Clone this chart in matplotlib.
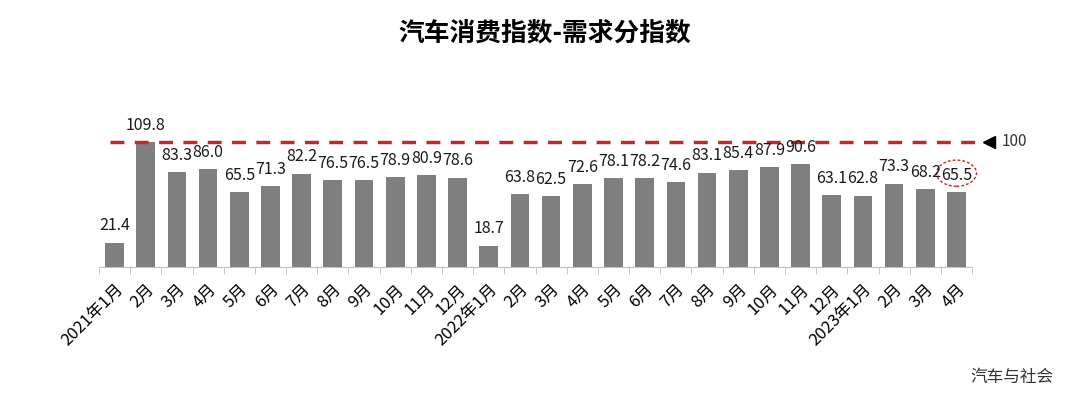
import numpy as np
import matplotlib.pyplot as plt
from matplotlib.patches import Ellipse

plt.rcParams['font.family'] = ['Noto Sans CJK SC', 'DejaVu Sans']

# data
months = ["2021年1月", "2月", "3月", "4月", "5月", "6月", "7月", "8月", "9月", "10月", "11月", "12月",
          "2022年1月", "2月", "3月", "4月", "5月", "6月", "7月", "8月", "9月", "10月", "11月", "12月",
          "2023年1月", "2月", "3月", "4月"]
values = [21.4, 109.8, 83.3, 86.0, 65.5, 71.3, 82.2, 76.5, 76.5, 78.9, 80.9, 78.6,
          18.7, 63.8, 62.5, 72.6, 78.1, 78.2, 74.6, 83.1, 85.4, 87.9, 90.6, 63.1,
          62.8, 73.3, 68.2, 65.5]
ref_label = "100"

fig = plt.figure(figsize=(10.7, 3.93), dpi=100)
ax = fig.add_axes([0.0925, 0.321, 0.816, 0.39])

x = np.arange(len(values))
ax.bar(x, values, width=0.6, color="#7f7f7f")
ax.set_xlim(-0.5, len(values) - 0.5)
ax.set_ylim(0, 135)

# value labels
for xi, v in zip(x, values):
    ax.annotate(f"{v:.1f}", (xi, v), xytext=(0, 6), textcoords="offset points",
                ha="center", va="bottom", fontsize=11.5, color="#1a1a1a")

# reference line (drawn level with the top of the tallest bar, as in the source)
line_y = 110
ax.plot([-0.15, len(values) - 0.4], [line_y, line_y], color="#c0282d",
        lw=2.5, ls=(0, (4, 3)), clip_on=False)
ax.plot([len(values) + 0.05], [line_y], marker="<", color="black", ms=9, clip_on=False)
ax.text(len(values) + 0.45, line_y, ref_label, va="center", ha="left",
        fontsize=11, color="#333333")

# highlight last value
last = len(values) - 1
ax.add_patch(Ellipse((last, values[last] + 17), 1.28, 23, fill=False,
                     ec="#c0282d", lw=1, ls=(0, (2, 1.5)), clip_on=False))

# axes styling
for s in ["top", "right", "left"]:
    ax.spines[s].set_visible(False)
ax.spines["bottom"].set_color("#bfbfbf")
ax.set_yticks([])
ax.set_xticks(np.arange(len(values) + 1) - 0.5, minor=True)
ax.tick_params(axis="x", which="minor", length=5, color="#bfbfbf", direction="out")
ax.tick_params(axis="x", which="major", length=0, pad=10)
ax.set_xticks(x)
ax.set_xticklabels(months, rotation=45, ha="right", rotation_mode="anchor", fontsize=12)

fig.text(0.509, 0.915, "汽车消费指数-需求分指数", ha="center", va="center",
         fontsize=18.5, fontweight="bold", color="black")
fig.text(0.985, 0.04, "汽车与社会", ha="right", va="center", fontsize=12, color="#333333")

fig.savefig("out.png", dpi=100)
